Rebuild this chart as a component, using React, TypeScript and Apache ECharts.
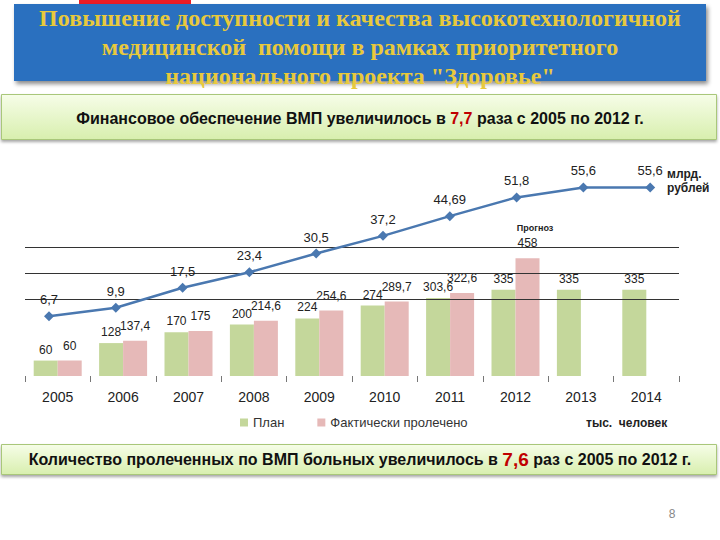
import React, { useEffect, useRef } from "react";
import * as echarts from "echarts";

const years = ["2005", "2006", "2007", "2008", "2009", "2010", "2011", "2012", "2013", "2014"];
const planValues = [60, 128, 170, 200, 224, 274, 303.6, 335, 335, 335];
const actualValues: (number | null)[] = [60, 137.4, 175, 214.6, 254.6, 289.7, 322.6, 458, null, null];
const fundingValues = [6.7, 9.9, 17.5, 23.4, 30.5, 37.2, 44.69, 51.8, 55.6, 55.6];
const gridLevels = [300, 400, 500];
const titleLines = [
  "Повышение доступности и качества высокотехнологичной",
  "медицинской  помощи в рамках приоритетного",
  "национального проекта \"Здоровье\"",
];

const SANS = "'Liberation Sans', Arial, sans-serif";
const comma = (v: any) => String(v).replace(".", ",");

export default function App() {
  const ref = useRef<HTMLDivElement>(null);
  useEffect(() => {
    if (!ref.current) return;
    const chart = echarts.init(ref.current, null, { renderer: "svg" });
    const boxGradient = new echarts.graphic.LinearGradient(0, 0, 0, 1, [
      { offset: 0, color: "#f6fde8" },
      { offset: 1, color: "#d8efae" },
    ]);
    chart.setOption({
      animation: false,
      backgroundColor: "#ffffff",
      grid: [
        { left: 25, right: 41, top: 160, bottom: 164 },
        { left: 15.6, right: 36.4, top: 160, bottom: 164 },
      ],
      legend: {
        data: ["План", "Фактически пролечено"],
        left: 235,
        top: 411,
        icon: "rect",
        itemWidth: 8,
        itemHeight: 8,
        itemGap: 33,
        textStyle: { fontSize: 13, color: "#333", fontFamily: SANS },
      },
      xAxis: [
        {
          type: "category",
          data: years,
          gridIndex: 0,
          axisLine: { show: false },
          axisTick: { show: true, length: 6, lineStyle: { color: "#777" } },
          axisLabel: { fontSize: 14, color: "#222", fontFamily: SANS, margin: 14 },
        },
        { type: "category", data: years, gridIndex: 1, show: false },
      ],
      yAxis: [
        { type: "value", gridIndex: 0, min: 0, max: 840, show: false, splitLine: { show: false } },
        { type: "value", gridIndex: 1, min: -16, max: 66, show: false, splitLine: { show: false } },
      ],
      series: [
        {
          name: "План",
          type: "bar",
          xAxisIndex: 0,
          yAxisIndex: 0,
          data: planValues,
          barWidth: 24,
          barGap: "0%",
          itemStyle: { color: "#c4d79b" },
          label: {
            show: true,
            position: "top",
            distance: 5,
            fontSize: 12,
            color: "#222",
            fontFamily: SANS,
            formatter: (p: any) => comma(p.value),
          },
          markLine: {
            silent: true,
            symbol: "none",
            label: { show: false },
            lineStyle: { color: "#333", type: "solid", width: 1 },
            data: gridLevels.map((v) => ({ yAxis: v })),
          },
        },
        {
          name: "Фактически пролечено",
          type: "bar",
          xAxisIndex: 0,
          yAxisIndex: 0,
          data: actualValues,
          barWidth: 24,
          barGap: "0%",
          itemStyle: { color: "#e6b9b8" },
          label: {
            show: true,
            position: "top",
            distance: 9,
            fontSize: 12,
            color: "#222",
            fontFamily: SANS,
            formatter: (p: any) => comma(p.value),
          },
        },
        {
          name: "Финансирование",
          type: "line",
          xAxisIndex: 1,
          yAxisIndex: 1,
          data: fundingValues,
          symbol: "diamond",
          symbolSize: 10,
          z: 5,
          lineStyle: { color: "#4a78b0", width: 2.5 },
          itemStyle: { color: "#4a78b0" },
          label: {
            show: true,
            position: "top",
            distance: 5,
            fontSize: 13,
            color: "#222",
            fontFamily: SANS,
            formatter: (p: any) => comma(p.value),
          },
        },
      ],
      graphic: [
        { type: "rect", left: 79, top: 0, shape: { width: 112, height: 7 }, style: { fill: "#ec1c24" } },
        {
          type: "rect",
          left: 14,
          top: 4,
          shape: { width: 692, height: 77 },
          style: {
            fill: "#2a6fbf",
            shadowBlur: 4,
            shadowOffsetY: 3,
            shadowOffsetX: 2,
            shadowColor: "rgba(0,0,0,0.45)",
          },
        },
        ...titleLines.map((t, i) => ({
          type: "text",
          x: 360,
          y: 18 + i * 29,
          style: {
            text: t,
            fill: "#e8c93c",
            font: "bold 24px 'Liberation Serif', 'Times New Roman', serif",
            align: "center",
            verticalAlign: "middle",
          },
        })),
        {
          type: "rect",
          left: 1,
          top: 94,
          shape: { width: 715, height: 45 },
          style: {
            fill: boxGradient,
            stroke: "#a9c77a",
            lineWidth: 1,
            shadowBlur: 3,
            shadowOffsetY: 2,
            shadowColor: "rgba(0,0,0,0.35)",
          },
        },
        {
          type: "text",
          x: 360,
          y: 118,
          style: {
            text: "{a|Финансовое обеспечение ВМП увеличилось в }{r|7,7}{a| раза с 2005 по 2012 г.}",
            align: "center",
            verticalAlign: "middle",
            rich: {
              a: { fontSize: 16, fontWeight: "bold", fill: "#111", fontFamily: SANS },
              r: { fontSize: 16, fontWeight: "bold", fill: "#c00000", fontFamily: SANS },
            },
          },
        },
        {
          type: "rect",
          left: 1,
          top: 444,
          shape: { width: 715, height: 30 },
          style: {
            fill: boxGradient,
            stroke: "#a9c77a",
            lineWidth: 1,
            shadowBlur: 3,
            shadowOffsetY: 2,
            shadowColor: "rgba(0,0,0,0.35)",
          },
        },
        {
          type: "text",
          x: 360,
          y: 459,
          style: {
            text: "{a|Количество пролеченных по ВМП больных увеличилось в }{r|7,6}{a| раз с 2005 по 2012 г.}",
            align: "center",
            verticalAlign: "middle",
            rich: {
              a: { fontSize: 16, fontWeight: "bold", fill: "#111", fontFamily: SANS },
              r: { fontSize: 19, fontWeight: "bold", fill: "#c00000", fontFamily: SANS },
            },
          },
        },
        {
          type: "text",
          x: 535,
          y: 228,
          style: { text: "Прогноз", font: "bold 9px " + SANS, fill: "#222", align: "center", verticalAlign: "middle" },
        },
        {
          type: "text",
          x: 667,
          y: 174,
          style: { text: "млрд.", font: "bold 12px " + SANS, fill: "#222", align: "left", verticalAlign: "middle" },
        },
        {
          type: "text",
          x: 667,
          y: 188,
          style: { text: "рублей", font: "bold 12px " + SANS, fill: "#222", align: "left", verticalAlign: "middle" },
        },
        {
          type: "text",
          x: 586,
          y: 423,
          style: { text: "тыс.  человек", font: "bold 12px " + SANS, fill: "#222", align: "left", verticalAlign: "middle" },
        },
        {
          type: "text",
          x: 672,
          y: 514,
          style: { text: "8", font: "12px " + SANS, fill: "#888", align: "center", verticalAlign: "middle" },
        },
      ],
    });
    return () => chart.dispose();
  }, []);
  return (
    <div
      ref={ref}
      style={{ position: "fixed", left: 0, top: 0, width: 720, height: 540, background: "#fff" }}
    />
  );
}
